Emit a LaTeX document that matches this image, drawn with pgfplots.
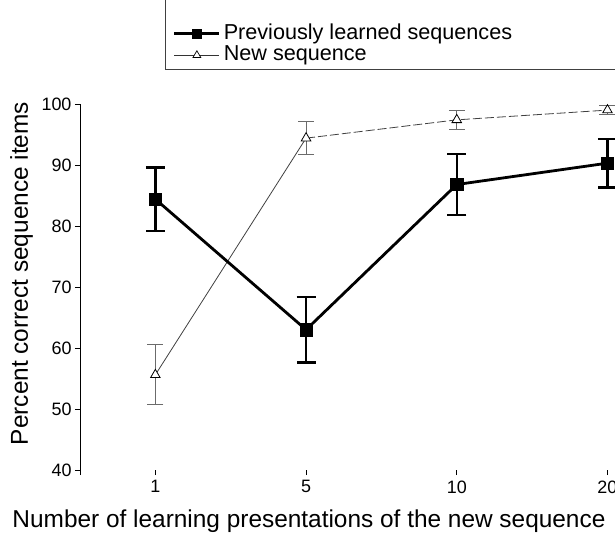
\documentclass[border=0pt]{standalone}
\usepackage{pgfplots}
\pgfplotsset{compat=1.18}
\usepackage{pgfplotstable}
\usepackage{fontspec}
\setmainfont{Liberation Sans}

% Mean percent correct and error half-widths, by number of presentations
\pgfplotstableread{
x y e
0 84.4 5.2
1 63.0 5.4
2 86.8 5.0
3 90.3 4.0
}\prevtab
\pgfplotstableread{
x y e
0 55.6 4.9
1 94.4 2.7
2 97.4 1.5
3 99.0 0.7
}\newtab

\begin{document}
\begin{tikzpicture}
\begin{axis}[
  scale only axis, width=535bp, height=371bp,
  xmin=-0.5, xmax=3.05, ymin=39.18, ymax=100,
  axis x line*=bottom, axis y line*=left,
  x axis line style={draw=none},
  y axis line style={line width=0.8bp, -},
  xtick={0,1,2,3}, xticklabels={1,5,10,20},
  ytick={40,50,...,100},
  xtick align=inside, ytick align=outside,
  major tick length=5bp,
  tick style={black, line width=0.8bp},
  /pgf/number format/assume math mode=true,
  tick label style={font=\fontsize{18}{20}\selectfont},
  xticklabel style={yshift=-2bp},
  label style={font=\fontsize{24.5}{28}\selectfont},
  xlabel={Number of learning presentations of the new sequence},
  ylabel={Percent correct sequence items},
  xlabel style={at={(rel axis cs:0.428,-0.1402)}, anchor=base},
  ylabel style={at={(rel axis cs:-0.0972,0.543)}, anchor=base},
  clip=false,
  legend cell align=left,
  legend image code/.code={\draw[mark repeat=2,mark phase=2,#1] plot coordinates {(0bp,0bp) (22.5bp,0bp) (45bp,0bp)};},
  legend style={draw=none, fill=none, at={(rel axis cs:0.1738,1.1604)}, anchor=west,
    inner sep=0pt, outer sep=0pt, row sep=1.5bp, column sep=3bp,
    nodes={inner sep=0pt, text height=15.5bp, text depth=4.5bp},
    font=\fontsize{21.7}{24}\selectfont},
]
% legend frame
\draw[black!75, line width=0.9bp] (rel axis cs:0.1589,1.0943) rectangle (rel axis cs:1.08,1.32);

\addlegendimage{black, line width=2.8bp, mark=square*, mark size=4.8bp,
  mark options={line width=0.5bp}}
\addlegendentry{Previously learned sequences}
\addlegendimage{black!80, line width=0.8bp, mark=triangle*, mark size=4.5bp,
  mark options={fill=white, draw=black, line width=0.7bp}}
\addlegendentry{New sequence}

% new sequence: solid from 1 to 5, dashed afterwards
\addplot[black!75, line width=0.8bp, no markers, forget plot,
  skip coords between index={2}{4}] table[x=x, y=y] {\newtab};
\addplot[black!75, line width=0.8bp, no markers, forget plot,
  dash pattern=on 9bp off 3bp,
  skip coords between index={0}{1}] table[x=x, y=y] {\newtab};
\addplot[only marks, mark=triangle*, mark size=5.5bp,
  mark options={fill=white, draw=black, line width=0.8bp}, forget plot,
  error bars/.cd, y dir=both, y explicit,
  error bar style={line width=1bp, black!58},
  error mark options={rotate=90, mark size=8bp, line width=1bp, black!58}]
  table[x=x, y=y, y error=e] {\newtab};

% previously learned sequences
\addplot[black, line width=2.8bp, mark=square*, mark size=6.2bp,
  mark options={line width=0.5bp}, forget plot,
  error bars/.cd, y dir=both, y explicit,
  error bar style={line width=2.5bp, black},
  error mark options={rotate=90, mark size=9.5bp, line width=2.5bp, black}]
  table[x=x, y=y, y error=e] {\prevtab};
\end{axis}
\pgfresetboundingbox
\path[use as bounding box] (-80bp,-63bp) rectangle (535bp,475bp);
\end{tikzpicture}
\end{document}
